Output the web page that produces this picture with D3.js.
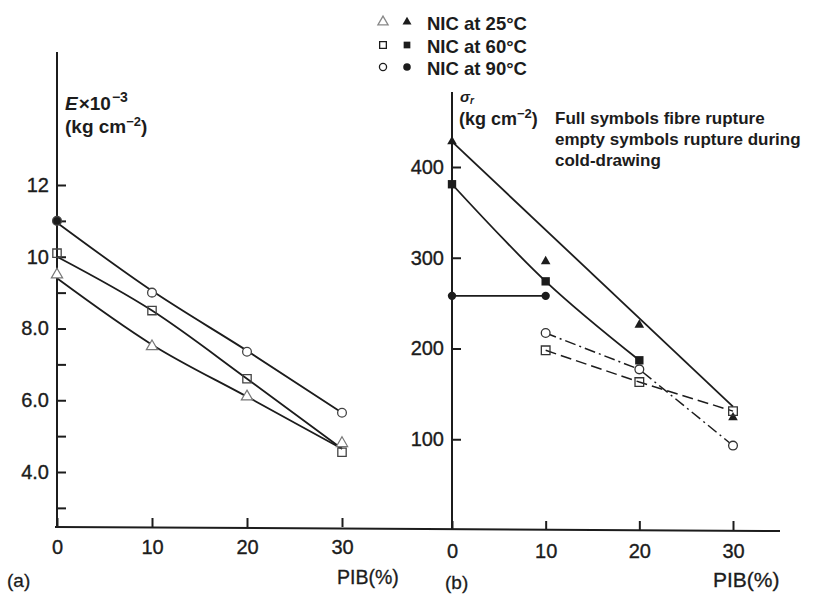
<!DOCTYPE html>
<html><head><meta charset="utf-8">
<script src="https://cdn.jsdelivr.net/npm/d3@7"></script>
<style>
html,body{margin:0;padding:0;background:#fff;}
svg{display:block;}
text{font-family:"Liberation Sans",Arial,Helvetica,sans-serif;fill:#1c1c1c;}
</style></head>
<body>
<svg id="chart" width="831" height="594"></svg>
<script>
// ---------- DATA ----------
const pib = [0, 10, 20, 30];
// (a) Young's modulus E x 10^-3 (kg cm^-2), measured points (open symbols)
const eNIC25 = [9.5, 7.5, 6.1, 4.8];
const eNIC60 = [10.1, 8.5, 6.6, 4.55];
const eNIC90 = [11.0, 9.0, 7.35, 5.65];
// (a) drawn curves through the points
const eCurve25 = [9.4, 7.55, 6.1, 4.65];
const eCurve60 = [10.0, 8.5, 6.6, 4.65];
const eCurve90 = [10.95, 9.05, 7.38, 5.65];
const eTickValues = [4, 6, 8, 10, 12];
const eTickLabels = ["4.0", "6.0", "8.0", "10", "12"];
const eMinorTicks = [3, 5, 7, 9, 11];
// (b) rupture stress sigma_r (kg cm^-2)
const sPib25Full = [0, 10, 20, 30];
const sNIC25Full = [428, 296, 226, 124];
const sPib60Full = [0, 10, 20];
const sNIC60Full = [381, 274, 187];
const sPib90Full = [0, 10];
const sNIC90Full = [258, 258];
const sPibEmpty = [10, 20, 30];
const sNIC60Empty = [198, 163, 131];
const sNIC90Empty = [217, 177, 93];
const sLine25Pib = [0, 30];
const sLine25 = [428, 136];
const sTickValues = [100, 200, 300, 400];
const xTickValues = [0, 10, 20, 30];
const legendLabels = ["NIC at 25°C", "NIC at 60°C", "NIC at 90°C"];
const noteLines = ["Full symbols fibre rupture", "empty symbols rupture during", "cold-drawing"];

// ---------- DRAW ----------
const svg = d3.select("#chart");
const ink = "#1c1c1c";
svg.append("rect").attr("width", 831).attr("height", 594).attr("fill", "#fff");

const xA = d3.scaleLinear().domain([0, 30]).range([57, 342]);
const yA = d3.scaleLinear().domain([4, 12]).range([472, 185]);
const xB = d3.scaleLinear().domain([0, 30]).range([452, 733]);
const yB = d3.scaleLinear().domain([0, 400]).range([530, 167]);

// main axis lines
svg.append("line").attr("x1", xA(0)).attr("x2", xA(0)).attr("y1", 52).attr("y2", 527)
  .attr("stroke", ink).attr("stroke-width", 2);
svg.append("line").attr("x1", xB(0)).attr("x2", xB(0)).attr("y1", 92).attr("y2", 530)
  .attr("stroke", ink).attr("stroke-width", 2);
svg.append("line").attr("x1", 55).attr("x2", 780).attr("y1", 527).attr("y2", 531)
  .attr("stroke", ink).attr("stroke-width", 2);

function styleAxis(g, fs) {
  g.select(".domain").remove();
  g.selectAll(".tick line").attr("stroke", ink).attr("stroke-width", 2);
  g.selectAll(".tick text").attr("fill", ink).style("font-size", fs + "px")
    .style("font-family", '"Liberation Sans",Arial,sans-serif')
    .attr("stroke", ink).attr("stroke-width", 0.35);
}

// (a) y axis
const yAxA = d3.axisLeft(yA).tickValues(eTickValues)
  .tickFormat((d, i) => eTickLabels[i]).tickSizeInner(-9).tickSizeOuter(0).tickPadding(8);
svg.append("g").attr("transform", `translate(${xA(0)},0)`).call(yAxA).call(g => styleAxis(g, 20));
const yAxAm = d3.axisLeft(yA).tickValues(eMinorTicks).tickFormat("").tickSizeInner(-9).tickSizeOuter(0);
svg.append("g").attr("transform", `translate(${xA(0)},0)`).call(yAxAm).call(g => styleAxis(g, 20));

// (b) y axis
const yAxB = d3.axisLeft(yB).tickValues(sTickValues).tickSizeInner(-9).tickSizeOuter(0).tickPadding(8);
svg.append("g").attr("transform", `translate(${xB(0)},0)`).call(yAxB).call(g => styleAxis(g, 20));

// x axes
const xAxA = d3.axisBottom(xA).tickValues(xTickValues).tickSizeInner(-9).tickSizeOuter(0).tickPadding(13);
svg.append("g").attr("transform", "translate(0,527)").call(xAxA).call(g => styleAxis(g, 20));
const xAxB = d3.axisBottom(xB).tickValues(xTickValues).tickSizeInner(-9).tickSizeOuter(0).tickPadding(14);
svg.append("g").attr("transform", "translate(0,530)").call(xAxB).call(g => styleAxis(g, 20));

// axis titles
function txt(x, y, s, opts = {}) {
  const t = svg.append("text").attr("x", x).attr("y", y).text(s)
    .style("font-size", (opts.fs || 19) + "px").style("font-weight", opts.fw || "normal")
    .attr("text-anchor", opts.anchor || "start");
  if (opts.sw) t.attr("stroke", ink).attr("stroke-width", opts.sw);
  return t;
}
txt(337, 584, "PIB(%)", {fs: 19.5, sw: 0.3});
txt(713, 587, "PIB(%)", {fs: 21, sw: 0.3});
txt(7, 587, "(a)", {fs: 19, sw: 0.3});
txt(445, 589, "(b)", {fs: 19, sw: 0.3});

// E x 10^-3 label
const eLab = svg.append("text").attr("x", 65).attr("y", 110).style("font-size", "19px").style("font-weight", "bold");
eLab.append("tspan").style("font-style", "italic").text("E");
eLab.append("tspan").attr("dx", 1).text("×10");
eLab.append("tspan").attr("dy", -8).attr("dx", 1).style("font-size", "14px").text("−3");
const kgA = svg.append("text").attr("x", 65).attr("y", 133).style("font-size", "19px").style("font-weight", "bold");
kgA.append("tspan").text("(kg cm");
kgA.append("tspan").attr("dy", -7).style("font-size", "13px").text("−2");
kgA.append("tspan").attr("dy", 7).text(")");

// sigma_r label
const sLab = svg.append("text").attr("x", 460).attr("y", 102).style("font-size", "15px").style("font-weight", "bold");
sLab.append("tspan").style("font-style", "italic").text("σ");
sLab.append("tspan").attr("dy", 2).style("font-size", "10px").style("font-style", "italic").text("r");
const kgB = svg.append("text").attr("x", 459).attr("y", 125).style("font-size", "18px").style("font-weight", "bold");
kgB.append("tspan").text("(kg cm");
kgB.append("tspan").attr("dy", -7).style("font-size", "13px").text("−2");
kgB.append("tspan").attr("dy", 7).text(")");

noteLines.forEach((s, i) => txt(555, 124 + i * 21, s, {fs: 17, fw: "bold"}));

// legend
const legendY = [22, 45, 67];
const symOpen = ["triangle", "square", "circle"];
function sym(type, size) {
  const t = {triangle: d3.symbolTriangle, square: d3.symbolSquare, circle: d3.symbolCircle}[type];
  return d3.symbol().type(t).size(size)();
}
legendLabels.forEach((lab, i) => {
  const y = legendY[i];
  svg.append("path").attr("d", sym(symOpen[i], i === 2 ? 40 : 45)).attr("transform", `translate(383,${y})`)
    .attr("fill", "none").attr("stroke", i === 0 ? "#888" : ink).attr("stroke-width", 1.3);
  svg.append("path").attr("d", sym(symOpen[i], i === 0 ? 35 : 45)).attr("transform", `translate(407,${y})`)
    .attr("fill", ink);
  txt(427, y + 8, lab, {fs: 18.5, fw: "bold"});
});

// (a) curves
const lineA = d3.line().x((d, i) => xA(pib[i])).y(d => yA(d)).curve(d3.curveMonotoneX);
[eCurve90, eCurve60, eCurve25].forEach(arr => {
  svg.append("path").attr("d", lineA(arr)).attr("fill", "none").attr("stroke", ink).attr("stroke-width", 1.8);
});
// (a) markers
eNIC25.forEach((v, i) => {
  svg.append("path").attr("d", sym("triangle", 55)).attr("transform", `translate(${xA(pib[i])},${yA(v)})`)
    .attr("fill", "#fff").attr("stroke", "#777").attr("stroke-width", 1.2);
});
eNIC60.forEach((v, i) => {
  svg.append("path").attr("d", sym("square", 70)).attr("transform", `translate(${xA(pib[i])},${yA(v)})`)
    .attr("fill", "none").attr("stroke", "#444").attr("stroke-width", 1.3);
});
eNIC90.forEach((v, i) => {
  svg.append("path").attr("d", sym("circle", 60)).attr("transform", `translate(${xA(pib[i])},${yA(v)})`)
    .attr("fill", i === 0 ? ink : "#fff").attr("stroke", "#444").attr("stroke-width", 1.3);
});

// (b) lines
const lineB = (xs) => d3.line().x((d, i) => xB(xs[i])).y(d => yB(d)).curve(d3.curveMonotoneX);
svg.append("path").attr("d", lineB(sLine25Pib)(sLine25)).attr("fill", "none").attr("stroke", ink).attr("stroke-width", 1.8);
svg.append("path").attr("d", lineB(sPib60Full)(sNIC60Full)).attr("fill", "none").attr("stroke", ink).attr("stroke-width", 1.8);
svg.append("path").attr("d", lineB(sPib90Full)(sNIC90Full)).attr("fill", "none").attr("stroke", ink).attr("stroke-width", 1.8);
svg.append("path").attr("d", d3.line().x((d, i) => xB(sPibEmpty[i])).y(d => yB(d))(sNIC60Empty))
  .attr("fill", "none").attr("stroke", ink).attr("stroke-width", 1.5).attr("stroke-dasharray", "11,5");
svg.append("path").attr("d", d3.line().x((d, i) => xB(sPibEmpty[i])).y(d => yB(d))(sNIC90Empty))
  .attr("fill", "none").attr("stroke", ink).attr("stroke-width", 1.5).attr("stroke-dasharray", "11,4,2,4");

// (b) markers
sNIC25Full.forEach((v, i) => {
  svg.append("path").attr("d", sym("triangle", 40)).attr("transform", `translate(${xB(sPib25Full[i])},${yB(v)})`).attr("fill", ink);
});
sNIC60Full.forEach((v, i) => {
  svg.append("path").attr("d", sym("square", 70)).attr("transform", `translate(${xB(sPib60Full[i])},${yB(v)})`).attr("fill", ink);
});
sNIC90Full.forEach((v, i) => {
  svg.append("path").attr("d", sym("circle", 55)).attr("transform", `translate(${xB(sPib90Full[i])},${yB(v)})`).attr("fill", ink);
});
sNIC60Empty.forEach((v, i) => {
  svg.append("path").attr("d", sym("square", 75)).attr("transform", `translate(${xB(sPibEmpty[i])},${yB(v)})`)
    .attr("fill", "none").attr("stroke", "#333").attr("stroke-width", 1.3);
});
sNIC90Empty.forEach((v, i) => {
  svg.append("path").attr("d", sym("circle", 60)).attr("transform", `translate(${xB(sPibEmpty[i])},${yB(v)})`)
    .attr("fill", "#fff").attr("stroke", "#333").attr("stroke-width", 1.3);
});
</script>
</body></html>
